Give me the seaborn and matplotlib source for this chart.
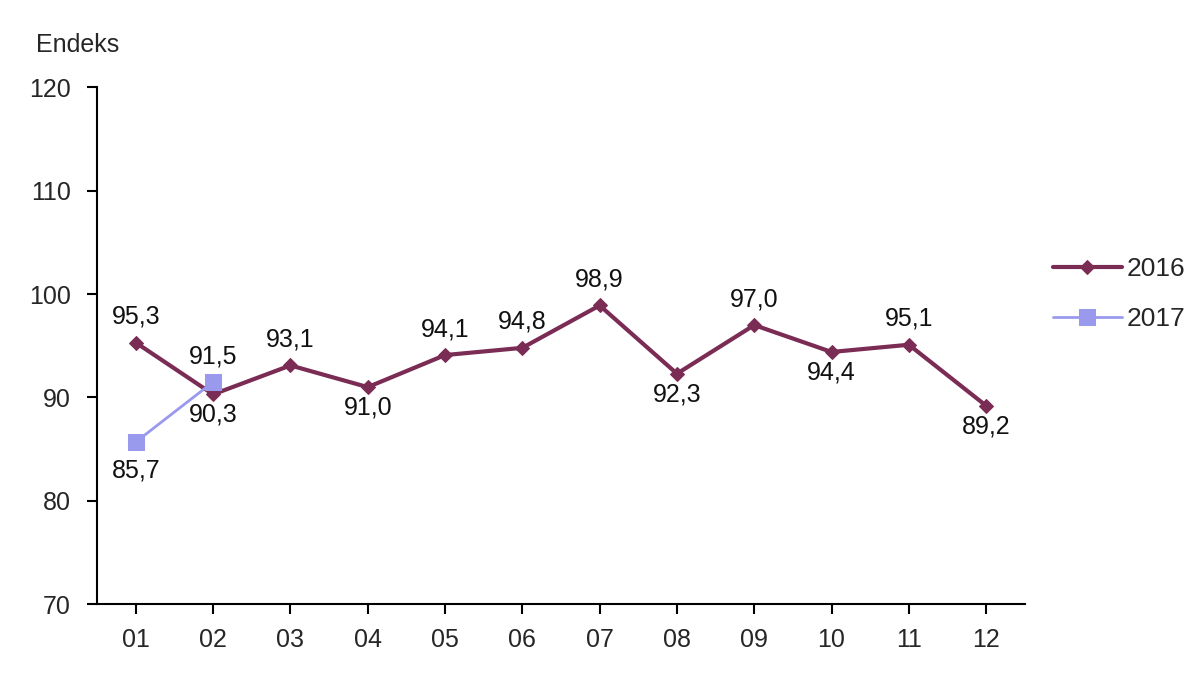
import matplotlib
matplotlib.use("Agg")
import matplotlib.pyplot as plt
import seaborn as sns
import pandas as pd

months = ["01", "02", "03", "04", "05", "06", "07", "08", "09", "10", "11", "12"]
values_2016 = [95.3, 90.3, 93.1, 91.0, 94.1, 94.8, 98.9, 92.3, 97.0, 94.4, 95.1, 89.2]
values_2017 = [85.7, 91.5]
labels_2016 = ["95,3", "90,3", "93,1", "91,0", "94,1", "94,8", "98,9", "92,3", "97,0", "94,4", "95,1", "89,2"]
labels_2017 = ["85,7", "91,5"]
pos_2016 = ["above", "below", "above", "below", "above", "above", "above", "below", "above", "below", "above", "below"]
pos_2017 = ["below", "above"]
yticks = [70, 80, 90, 100, 110, 120]

sns.set_theme(style="white")
plt.rcParams['font.family'] = ['Liberation Sans', 'DejaVu Sans']

fig = plt.figure(figsize=(12, 6.82), dpi=100)
ax = fig.add_axes([0.081, 0.114, 0.773, 0.758])

df16 = pd.DataFrame({"x": list(range(len(months))), "y": values_2016})
df17 = pd.DataFrame({"x": list(range(len(values_2017))), "y": values_2017})

c16 = "#7B2C55"
c17 = "#9999EE"

sns.lineplot(data=df16, x="x", y="y", ax=ax, color=c16, lw=3, marker="D",
             markersize=7, markeredgecolor=c16, label="2016", zorder=3)
sns.lineplot(data=df17, x="x", y="y", ax=ax, color=c17, lw=2, marker="s",
             markersize=11, markeredgecolor=c17, label="2017", zorder=4)

fs = 18
for i, (v, l, p) in enumerate(zip(values_2016, labels_2016, pos_2016)):
    dy = 10 if p == "above" else -6
    ax.annotate(l, (i, v), xytext=(0, dy), textcoords="offset points",
                ha="center", va="bottom" if p == "above" else "top", fontsize=fs, color="#111111")
for i, (v, l, p) in enumerate(zip(values_2017, labels_2017, pos_2017)):
    dy = 10 if p == "above" else -12
    ax.annotate(l, (i, v), xytext=(0, dy), textcoords="offset points",
                ha="center", va="bottom" if p == "above" else "top", fontsize=fs, color="#111111")

ax.set_xlim(-0.5, len(months) - 0.5)
ax.set_ylim(70, 120)
ax.set_yticks(yticks)
ax.set_yticklabels([str(t) for t in yticks], fontsize=fs)
ax.set_xticks(range(len(months)))
ax.set_xticklabels(months, fontsize=fs)
ax.set_xlabel("")
ax.set_ylabel("")
ax.grid(False)
for s in ["top", "right"]:
    ax.spines[s].set_visible(False)
for s in ["left", "bottom"]:
    ax.spines[s].set_color("black")
    ax.spines[s].set_linewidth(1.5)
ax.tick_params(axis="y", direction="out", length=7, width=1.5, color="black", left=True, pad=12)
ax.tick_params(axis="x", direction="out", length=7, width=1.5, color="black", bottom=True, pad=10)

fig.text(0.03, 0.934, "Endeks", fontsize=fs, ha="left", va="center")

leg = ax.legend(loc="center left", bbox_to_anchor=(1.005, 0.6), frameon=False, fontsize=19,
                handlelength=2.6, handletextpad=0.2, labelspacing=1.0)

fig.savefig("out.png", dpi=100)
